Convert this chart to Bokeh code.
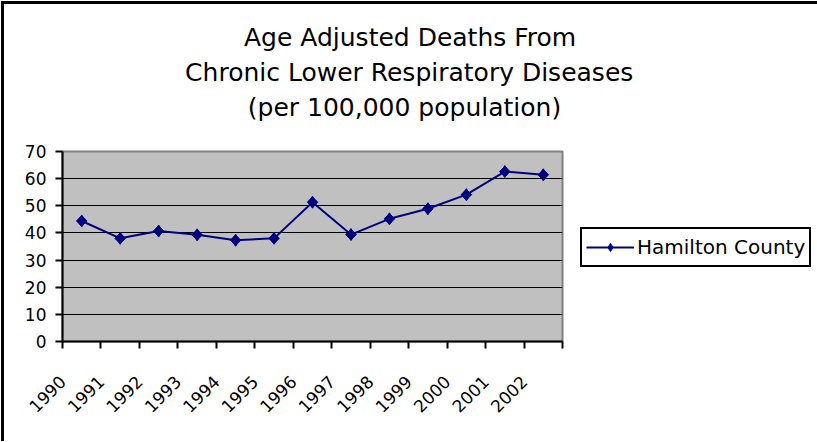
import numpy as np
from bokeh.plotting import figure
from bokeh.models import Range1d, FixedTicker, Title, Legend, LegendItem, ColumnDataSource
from bokeh.embed import file_html
from bokeh.resources import INLINE

# ---- data ----
years = ["1990", "1991", "1992", "1993", "1994", "1995", "1996",
         "1997", "1998", "1999", "2000", "2001", "2002"]
deaths = [44.4, 38.0, 40.7, 39.3, 37.3, 38.0, 51.3, 39.4, 45.2, 48.9, 54.1, 62.6, 61.4]
y_ticks = [0, 10, 20, 30, 40, 50, 60, 70]
title_lines = ["Age Adjusted Deaths From",
               "Chronic Lower Respiratory Diseases",
               "(per 100,000 population)"]
series_name = "Hamilton County"

FONT = "DejaVu Sans"
NAVY = "#000080"

n = len(years)
src = ColumnDataSource(dict(x=np.arange(n) + 0.5, y=deaths, year=years))

p = figure(frame_width=500, frame_height=190, output_backend="svg", toolbar_location=None,
           x_range=Range1d(0, n), y_range=Range1d(y_ticks[0], y_ticks[-1]),
           min_border_left=58, min_border_right=254, min_border_top=147,
           min_border_bottom=100)
p.styles = {"margin-left": "1px", "margin-top": "1px",
            "border-left": "3px solid black", "border-top": "3px solid black"}

p.background_fill_color = "#C0C0C0"
p.border_fill_color = "white"
p.outline_line_color = "#808080"
p.outline_line_width = 2

# grid
p.xgrid.visible = False
p.ygrid.grid_line_color = "black"
p.ygrid.grid_line_width = 1
p.ygrid.ticker = FixedTicker(ticks=y_ticks)

# x axis: ticks at category boundaries, labels at left boundary
xa = p.xaxis[0]
xa.ticker = FixedTicker(ticks=list(range(n + 1)))
xa.major_label_overrides = {i: (years[i] if i < n else "") for i in range(n + 1)}
xa.major_label_orientation = np.pi / 4
xa.major_label_text_font = FONT
xa.major_label_text_font_size = "17px"
xa.major_label_text_color = "black"
xa.major_label_standoff = 30
xa.major_tick_in = 0
xa.major_tick_out = 7
xa.major_tick_line_width = 2
xa.minor_tick_line_color = None
xa.axis_line_width = 2
xa.axis_line_color = "black"

ya = p.yaxis[0]
ya.ticker = FixedTicker(ticks=y_ticks)
ya.major_label_text_font = FONT
ya.major_label_text_font_size = "17px"
ya.major_label_text_color = "black"
ya.major_label_standoff = 9
ya.major_tick_in = 0
ya.major_tick_out = 7
ya.major_tick_line_width = 2
ya.minor_tick_line_color = None
ya.axis_line_width = 2
ya.axis_line_color = "black"

line_r = p.line("x", "y", source=src, line_color=NAVY, line_width=2)
key_r = p.scatter("x", "y", source=src, marker="diamond", size=12,
                  fill_color=NAVY, line_color=NAVY)
mark_r = p.scatter("x", "y", source=src, marker="square", angle=np.pi / 4,
                   size=7.5, fill_color=NAVY, line_color=NAVY)

# title: spacer next to the plot, then three centered lines stacked upward
p.add_layout(Title(text=" ", text_font_size="1px", standoff=25), "above")
offsets = [181.5, 122.6, 185.3]
for t, off in reversed(list(zip(title_lines, offsets))):
    p.add_layout(Title(text=t, align="left", offset=off, standoff=3.5,
                       text_font=FONT, text_font_size="25px",
                       text_font_style="normal", text_color="black"), "above")

legend = Legend(items=[LegendItem(label=series_name, renderers=[line_r, key_r])],
                location=(18, 74), margin=0, padding=4, spacing=0,
                glyph_width=48, glyph_height=20, label_standoff=3, label_height=28,
                label_text_font=FONT, label_text_font_size="20px",
                label_text_color="black",
                border_line_color="black", border_line_width=2, border_line_alpha=1.0,
                background_fill_color="white", background_fill_alpha=1.0)
p.add_layout(legend, "right")

open("out.html", "w").write(file_html(p, INLINE))
